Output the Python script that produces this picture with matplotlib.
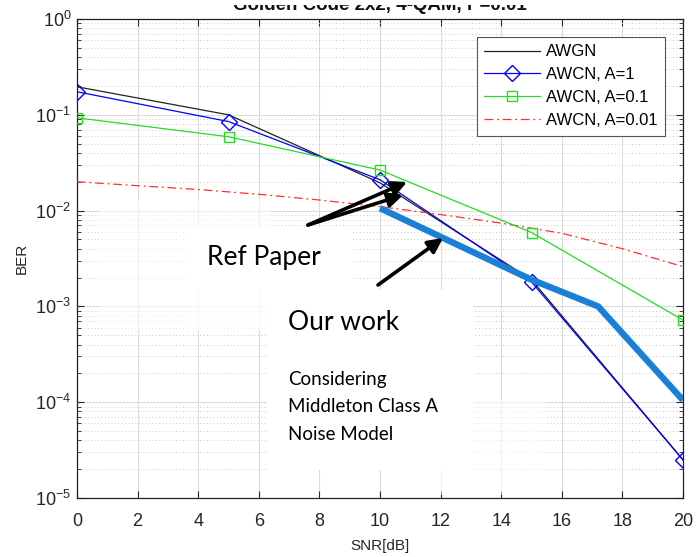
import numpy as np
import matplotlib
matplotlib.use("Agg")
import matplotlib.pyplot as plt
from matplotlib.patches import Rectangle
from matplotlib.ticker import LogLocator, NullFormatter

plt.rcParams['font.family'] = ['Liberation Sans', 'DejaVu Sans']
plt.rcParams['mathtext.fontset'] = 'custom'
plt.rcParams['mathtext.rm'] = 'Liberation Sans'
plt.rcParams['mathtext.it'] = 'Liberation Sans'

# ---- data ----
snr_5db = [0, 5, 10, 15, 20]
ber_awgn = [0.196, 0.100, 0.0195, 0.0019, 2.5e-5]
ber_a1 = [0.174, 0.085, 0.021, 0.0018, 2.5e-5]
ber_a01 = [0.093, 0.059, 0.0265, 0.0059, 7.2e-4]

snr_2db = [0, 2, 4, 6, 8, 10, 12, 14, 16, 18, 20]
ber_a001 = [0.0200, 0.0182, 0.0166, 0.0148, 0.0129, 0.0110,
            0.0091, 0.0074, 0.0058, 0.0040, 0.0026]

snr_ours = [10, 15, 17.2, 20]
ber_ours = [0.0106, 0.0019, 0.0010, 1.05e-4]

x_ticks = list(range(0, 21, 2))

W, H = 696, 557
fig = plt.figure(figsize=(W / 100, H / 100), dpi=100)
ax = fig.add_axes([77 / W, 1 - 498 / H, 606 / W, 479 / H])


def px(x, y):
    """pixel (from top-left) -> figure fraction"""
    return x / W, 1 - y / H


txt = '#262626'
ax.plot(snr_5db, ber_awgn, color='#222222', lw=0.9, label='AWGN', zorder=4)
ax.plot(snr_5db, ber_a1, color='#0000ff', lw=0.9, marker='D', ms=8.5,
        mfc='none', mec='#0000ff', mew=1.0, label='AWCN, A=1', zorder=5)
ax.plot(snr_5db, ber_a01, color='#22dd22', lw=0.9, marker='s', ms=7,
        mfc='none', mec='#22dd22', mew=1.0, label='AWCN, A=0.1', zorder=5)
ax.plot(snr_2db, ber_a001, color='#ff3030', lw=0.9, ls=(0, (7, 3, 1.5, 3)),
        label='AWCN, A=0.01', zorder=4)
ax.plot(snr_ours, ber_ours, color='#1a7fd6', lw=4.6, solid_capstyle='butt',
        zorder=6)

ax.set_yscale('log')
ax.set_xlim(0, 20)
ax.set_ylim(1e-5, 1)
ax.set_xticks(x_ticks)
ax.yaxis.set_major_locator(LogLocator(base=10, numticks=10))
ax.yaxis.set_minor_locator(LogLocator(base=10, subs=np.arange(2, 10), numticks=10))
ax.yaxis.set_minor_formatter(NullFormatter())

ax.grid(True, which='major', color='#dcdcdc', lw=0.8, ls='-', zorder=0)
ax.grid(True, which='minor', axis='y', color='#c8c8c8', lw=0.7,
        ls=(0, (1, 2.5)), zorder=0)
ax.set_axisbelow(True)
ax.tick_params(which='both', direction='in', top=True, right=True,
               colors=txt, labelcolor=txt)
ax.tick_params(which='major', length=5, width=0.8)
ax.tick_params(which='minor', length=3, width=0.6)
ax.tick_params(axis='x', labelsize=13, pad=11)
ax.tick_params(axis='y', labelsize=13, pad=4)
for s in ax.spines.values():
    s.set_color('#222222')
    s.set_linewidth(0.9)

ax.set_xlabel('SNR[dB]', fontsize=11, color=txt, labelpad=6)
ax.set_ylabel('BER', fontsize=11, color=txt, labelpad=5)

leg = ax.legend(loc='upper right', bbox_to_anchor=px(665, 37),
                bbox_transform=fig.transFigure, fontsize=12, frameon=True,
                fancybox=False, edgecolor='#555555', framealpha=1,
                borderpad=0.45, labelspacing=0.47, handlelength=3.35,
                handletextpad=0.36, borderaxespad=0)
leg.get_frame().set_linewidth(0.8)
leg.set_zorder(10)

# title, its upper part hidden by the strip at the top edge
fig.text(380 / W, 1 - 10 / H, 'Golden Code 2x2, 4-QAM, P=0.01', ha='center',
         va='baseline', fontsize=13.5, fontweight='bold', color='#111111')
a, b = px(0, 5)
fig.patches.append(Rectangle((a, b), 1, 5 / H, transform=fig.transFigure,
                             facecolor='white', edgecolor='none', zorder=20))

# faded patches
for (x0, y0, x1, y1) in [(100, 200, 270, 330), (400, 400, 545, 495),
                         (190, 290, 270, 330)]:
    a, b = px(x0, y1)
    fig.patches.append(Rectangle((a, b), (x1 - x0) / W, (y1 - y0) / H,
                                 transform=fig.transFigure, facecolor='white',
                                 edgecolor='none', alpha=0.55, zorder=1.5))

# white label boxes
for (x0, y0, x1, y1) in [(187, 227, 353, 290), (267, 290, 473, 470)]:
    a, b = px(x0, y1)
    fig.patches.append(Rectangle((a, b), (x1 - x0) / W, (y1 - y0) / H,
                                 transform=fig.transFigure, facecolor='white',
                                 edgecolor='none', zorder=7))

fig.text(*px(207, 258), 'Ref Paper', fontsize=19, family='Lato',
         color='black', va='center', ha='left', zorder=8)
fig.text(*px(288, 323), 'Our work', fontsize=19, family='Lato',
         color='black', va='center', ha='left', zorder=8)
for yy, line in zip([380, 407, 435], ['Considering', 'Middleton Class A',
                                      'Noise Model']):
    fig.text(*px(288, yy), line, fontsize=13.5, family='Lato',
             color='black', va='center', ha='left', zorder=8)

# arrows
arrow_kw = dict(arrowstyle='-|>', lw=2.6, color='black', mutation_scale=22,
                shrinkA=0, shrinkB=0)
for tail, head in [((308, 225), (407, 182)), ((308, 225), (403, 195)),
                   ((378, 285), (443, 238))]:
    ax.annotate('', xy=px(*head), xytext=px(*tail),
                xycoords='figure fraction', textcoords='figure fraction',
                arrowprops=arrow_kw, zorder=9, annotation_clip=False)

fig.savefig('out.png', dpi=100, facecolor='white')
